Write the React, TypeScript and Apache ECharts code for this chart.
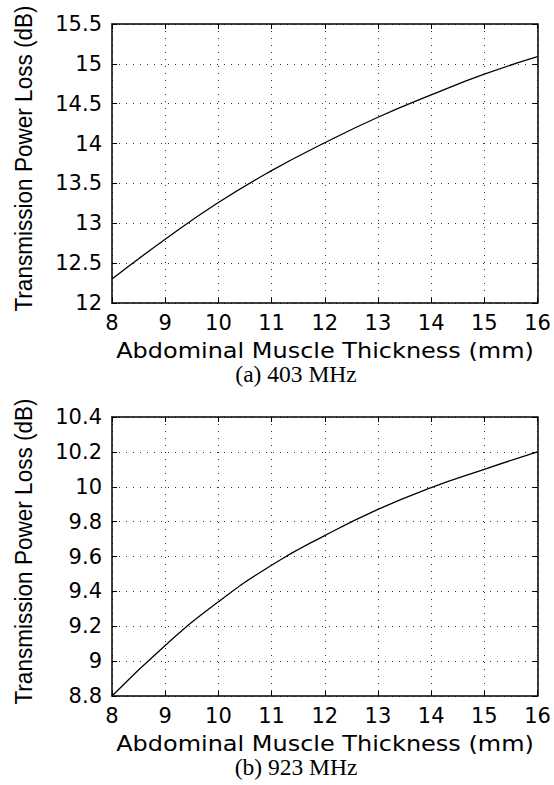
import React, { useEffect, useRef } from "react";
import * as echarts from "echarts";

const thickness = [8, 9, 10, 11, 12, 13, 14, 15, 16];
const loss403 = [12.3, 12.8, 13.26, 13.66, 14.01, 14.33, 14.61, 14.87, 15.09];
const loss923 = [8.8, 9.09, 9.34, 9.55, 9.72, 9.87, 9.995, 10.1, 10.2];
const yName = "Transmission Power Loss (dB)";
const xName = "Abdominal Muscle Thickness (mm)";
const captions = ["(a) 403 MHz", "(b) 923 MHz"];
const yRanges = [
  { min: 12, max: 15.5, interval: 0.5 },
  { min: 8.8, max: 10.4, interval: 0.2 },
];

const SANS = "DejaVu Sans";
const GRID_LEFT = 112;
const GRID_W = 425.5;
const GRID_H = 279;
const GRID_TOPS = [24, 417];

export default function App() {
  const ref = useRef<HTMLDivElement>(null);
  useEffect(() => {
    if (!ref.current) return;
    const chart = echarts.init(ref.current, undefined, { renderer: "svg" });
    const axisLine = { show: true, lineStyle: { color: "#000", width: 1.5 } };
    const tick = { show: true, inside: true, length: 5, lineStyle: { color: "#000", width: 1 } };
    const split = { show: true, lineStyle: { color: "#333", width: 1, type: [1, 6] as any } };
    const grids: any[] = [];
    const xAxes: any[] = [];
    const yAxes: any[] = [];
    const series: any[] = [];
    const graphics: any[] = [];
    const datas = [loss403, loss923];
    GRID_TOPS.forEach((top, i) => {
      grids.push({ left: GRID_LEFT, top, width: GRID_W, height: GRID_H, containLabel: false });
      xAxes.push({
        type: "value", gridIndex: i, min: 8, max: 16, interval: 1, position: "bottom",
        axisLine, axisTick: tick, splitLine: split,
        axisLabel: { color: "#000", fontFamily: SANS, fontSize: 21, margin: 9 },
      });
      xAxes.push({
        type: "value", gridIndex: i, min: 8, max: 16, interval: 1, position: "top",
        axisLine, axisTick: tick, splitLine: { show: false }, axisLabel: { show: false },
      });
      yAxes.push({
        type: "value", gridIndex: i, ...yRanges[i], position: "left",
        axisLine, axisTick: tick, splitLine: split,
        axisLabel: { color: "#000", fontFamily: SANS, fontSize: 21, margin: 10 },
      });
      yAxes.push({
        type: "value", gridIndex: i, ...yRanges[i], position: "right",
        axisLine, axisTick: tick, splitLine: { show: false }, axisLabel: { show: false },
      });
      series.push({
        type: "line", xAxisIndex: i * 2, yAxisIndex: i * 2, smooth: true,
        showSymbol: false, symbol: "none",
        lineStyle: { color: "#000", width: 1.3 },
        data: thickness.map((x, k) => [x, datas[i][k]]),
      });
      const off = top - GRID_TOPS[0];
      graphics.push({
        type: "text", x: 23.5, y: 158.5 + off, rotation: Math.PI / 2, scaleX: 0.94,
        style: { text: yName, fill: "#000", font: `24px "Liberation Sans"`, textAlign: "center", textVerticalAlign: "middle" },
      });
      graphics.push({
        type: "text", x: 325, y: 350 + off, scaleX: 1.09,
        style: { text: xName, fill: "#000", font: `22px "${SANS}"`, textAlign: "center", textVerticalAlign: "middle" },
      });
      graphics.push({
        type: "text", x: 296, y: 374 + off,
        style: { text: captions[i], fill: "#000", font: `23.5px "Liberation Serif"`, textAlign: "center", textVerticalAlign: "middle" },
      });
    });
    chart.setOption({
      animation: false,
      backgroundColor: "#fff",
      grid: grids,
      xAxis: xAxes,
      yAxis: yAxes,
      series,
      graphic: graphics,
    });
    return () => chart.dispose();
  }, []);
  return <div ref={ref} style={{ position: "absolute", left: 0, top: 0, width: 554, height: 785, background: "#fff" }} />;
}
